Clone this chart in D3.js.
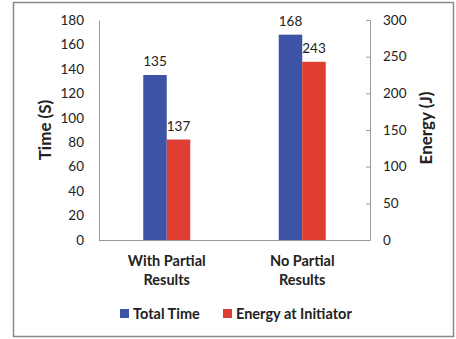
<!DOCTYPE html>
<html>
<head>
<meta charset="utf-8">
<script src="https://cdn.jsdelivr.net/npm/d3@7"></script>
<style>
 body { margin: 0; background: #fff; }
 text { font-family: Lato, "Open Sans", sans-serif; fill: #222; }
</style>
</head>
<body>
<script>
// chart data
var categories = ["With Partial|Results", "No Partial|Results"];
var seriesNames = ["Total Time", "Energy at Initiator"];
var timeValues = [135, 168];
var energyValues = [137, 243];
var timeTicks = [0, 20, 40, 60, 80, 100, 120, 140, 160, 180];
var energyTicks = [0, 50, 100, 150, 200, 250, 300];

var width = 456, height = 339;
var blue = "#3d54a6", red = "#e03e33";

var svg = d3.select("body").append("svg")
 .attr("width", width)
 .attr("height", height);

// outer frame
svg.append("rect")
 .attr("x", 13.5).attr("y", 2.5)
 .attr("width", 440).attr("height", 334)
 .attr("fill", "#fff")
 .attr("stroke", "#8a8a8a")
 .attr("stroke-width", 1.5);

var plotLeft = 99, plotRight = 370, plotTop = 20, plotBottom = 240;

var x = d3.scaleBand().domain(categories).range([plotLeft, plotRight]);
var yTime = d3.scaleLinear().domain([0, 180]).range([plotBottom, plotTop]);
var yEnergy = d3.scaleLinear().domain([0, 300]).range([plotBottom, plotTop]);
var barW = 23.5;

// left axis
var leftAxis = svg.append("g")
 .attr("transform", "translate(" + plotLeft + ",0)")
 .call(d3.axisLeft(yTime).tickValues(timeTicks).tickSize(0).tickPadding(15));
leftAxis.select(".domain").attr("stroke", "#999");
leftAxis.selectAll("text").style("font-size", "13.5px").attr("fill", "#222");

// right axis
var rightAxis = svg.append("g")
 .attr("transform", "translate(" + plotRight + ",0)")
 .call(d3.axisRight(yEnergy).tickValues(energyTicks).tickSizeInner(-4).tickSizeOuter(-4).tickPadding(13));
rightAxis.select(".domain").attr("stroke", "#999");
rightAxis.selectAll("line").attr("stroke", "#999");
rightAxis.selectAll("text").style("font-size", "13.5px").attr("fill", "#222");

// bottom axis line
svg.append("line")
 .attr("x1", plotLeft).attr("x2", plotRight)
 .attr("y1", plotBottom + 0.5).attr("y2", plotBottom + 0.5)
 .attr("stroke", "#999");

// bars
var groups = svg.selectAll(".grp")
 .data(categories)
 .enter().append("g");

groups.append("rect")
 .attr("x", function(d) { return x(d) + x.bandwidth() / 2 - barW; })
 .attr("y", function(d, i) { return yTime(timeValues[i]); })
 .attr("width", barW)
 .attr("height", function(d, i) { return plotBottom - yTime(timeValues[i]); })
 .attr("fill", blue);

groups.append("rect")
 .attr("x", function(d) { return x(d) + x.bandwidth() / 2; })
 .attr("y", function(d, i) { return yEnergy(energyValues[i]); })
 .attr("width", barW)
 .attr("height", function(d, i) { return plotBottom - yEnergy(energyValues[i]); })
 .attr("fill", red);

// value labels
groups.append("text")
 .attr("x", function(d) { return x(d) + x.bandwidth() / 2 - barW / 2; })
 .attr("y", function(d, i) { return yTime(timeValues[i]) - 9; })
 .attr("text-anchor", "middle")
 .style("font-size", "13.5px")
 .text(function(d, i) { return timeValues[i]; });

groups.append("text")
 .attr("x", function(d) { return x(d) + x.bandwidth() / 2 + barW / 2; })
 .attr("y", function(d, i) { return yEnergy(energyValues[i]) - 9; })
 .attr("text-anchor", "middle")
 .style("font-size", "13.5px")
 .text(function(d, i) { return energyValues[i]; });

// category labels
groups.append("text")
 .attr("text-anchor", "middle")
 .style("font-size", "14.5px")
 .style("font-weight", "bold")
 .selectAll("tspan")
 .data(function(d) { return d.split("|").map(function(t) { return { t: t, c: d }; }); })
 .enter().append("tspan")
 .attr("x", function(d) { return x(d.c) + x.bandwidth() / 2; })
 .attr("y", function(d, i) { return 266 + i * 19; })
 .text(function(d) { return d.t; });

// axis titles
svg.append("text")
 .attr("transform", "translate(51,130) rotate(-90)")
 .attr("text-anchor", "middle")
 .style("font-size", "17px")
 .style("font-weight", "bold")
 .text("Time (S)");

svg.append("text")
 .attr("transform", "translate(432,128) rotate(-90)")
 .attr("text-anchor", "middle")
 .style("font-size", "17px")
 .style("font-weight", "bold")
 .text("Energy (J)");

// legend
var legendX = [120, 223];
var legend = svg.selectAll(".leg")
 .data(seriesNames)
 .enter().append("g")
 .attr("transform", function(d, i) { return "translate(" + legendX[i] + ",309)"; });

legend.append("rect")
 .attr("width", 9).attr("height", 9)
 .attr("fill", function(d, i) { return i === 0 ? blue : red; });

legend.append("text")
 .attr("x", 13).attr("y", 10)
 .style("font-size", "14.5px")
 .style("font-weight", "bold")
 .text(function(d) { return d; });
</script>
</body>
</html>
